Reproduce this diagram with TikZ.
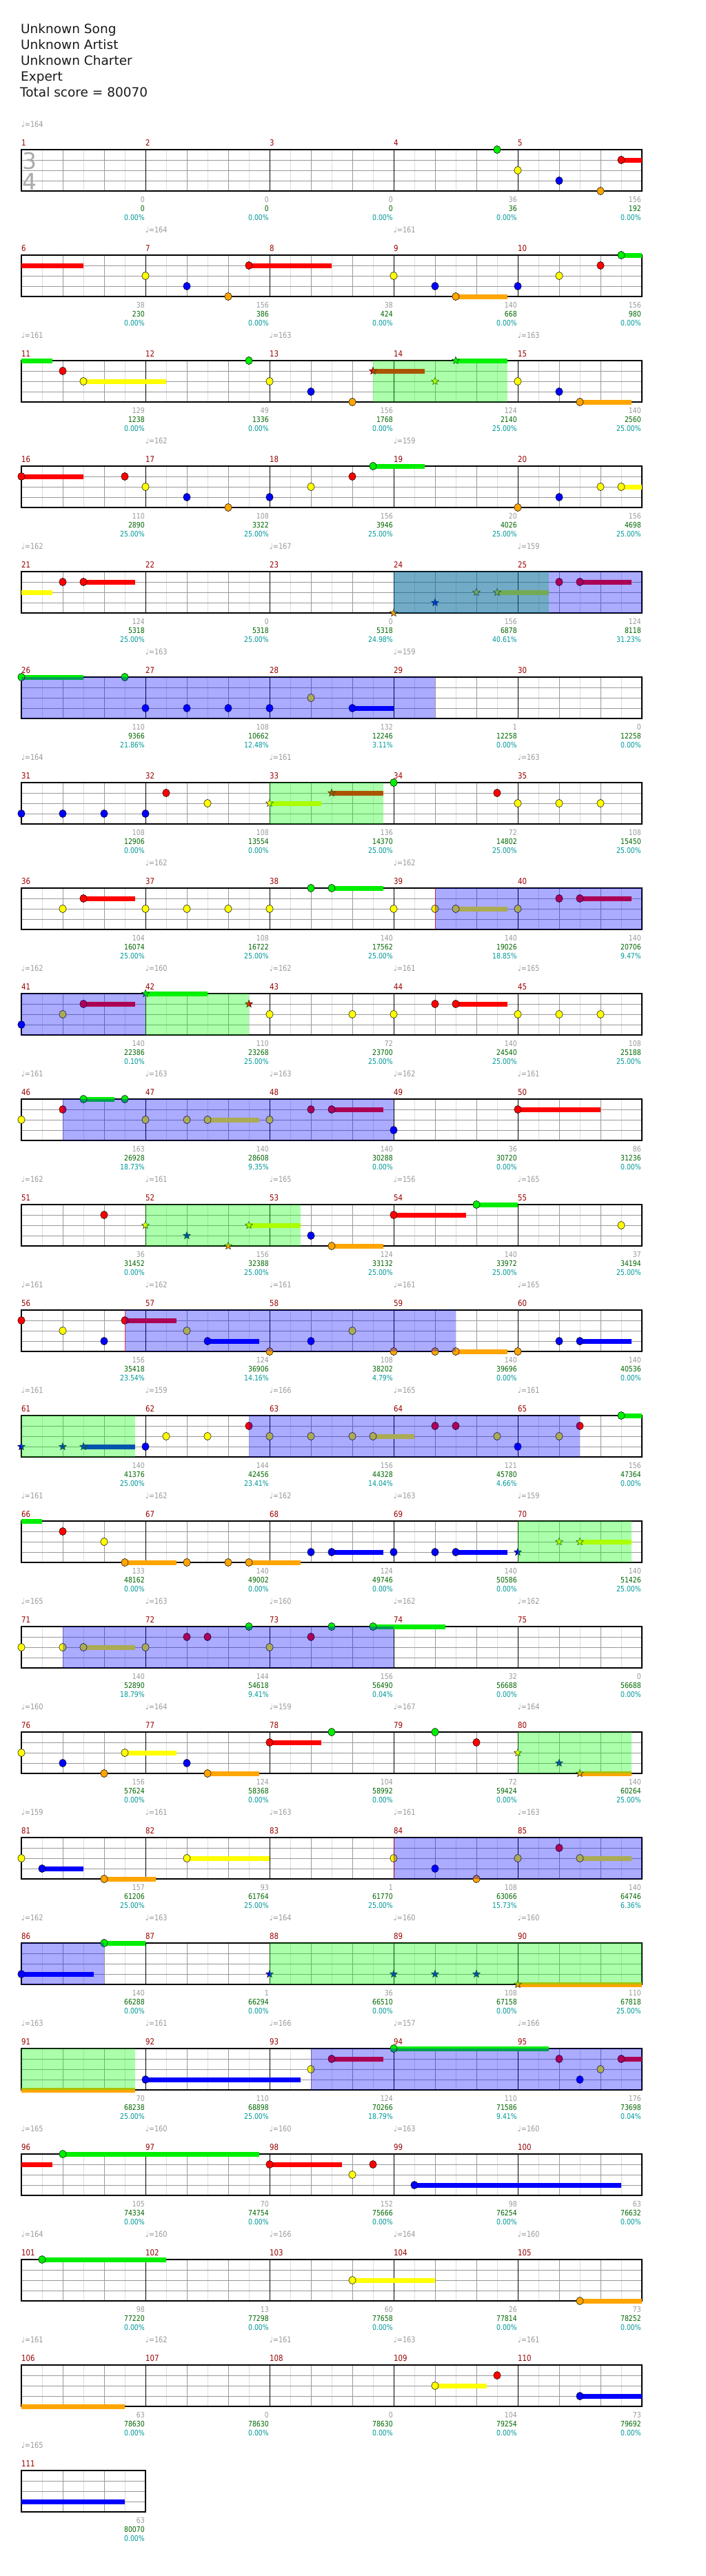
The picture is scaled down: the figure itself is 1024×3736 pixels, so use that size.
\documentclass[tikz,border=0pt]{standalone}
\usepackage{fontspec}
\setmainfont{DejaVu Sans}
\newfontfamily\cf[FakeStretch=0.85]{DejaVu Sans}
\usetikzlibrary{shapes.geometric}
\definecolor{lc0}{HTML}{00EE00}
\definecolor{lc1}{HTML}{FF0000}
\definecolor{lc2}{HTML}{FFFF00}
\definecolor{lc3}{HTML}{0000FF}
\definecolor{lc4}{HTML}{FFA500}
\definecolor{mnum}{HTML}{990000}
\definecolor{gnum}{HTML}{999999}
\definecolor{snum}{HTML}{006600}
\definecolor{pnum}{HTML}{009999}
\definecolor{lightgrid}{HTML}{DDDDDD}
\definecolor{midgrid}{HTML}{999999}
\definecolor{tsig}{HTML}{AAAAAA}
\definecolor{ovg}{RGB}{0,255,0}
\definecolor{ovb}{RGB}{0,0,255}
\newcounter{nd}
\tikzset{
  starnote/.style={star,star points=5,star point ratio=2.3,minimum size=11.5pt,inner sep=0pt,draw=black,line width=0.4pt},
  notehead/.style={draw=black,line width=0.5pt},
  spgreen/.style={fill=ovg,fill opacity=0.33},
  actblue/.style={fill=ovb,fill opacity=0.33},
  mnumst/.style={anchor=base west,inner sep=0pt,text=mnum,font={\cf\fontsize{12}{12}\selectfont}},
  bnum/.style={anchor=base east,inner sep=0pt,xshift=-1pt,font={\cf\fontsize{11}{11}\selectfont}},
  tempost/.style={anchor=base west,inner sep=0pt,text=gnum,font={\cf\fontsize{11.5}{12}\selectfont}},
  titlest/.style={anchor=base west,inner sep=0pt,text=black!90,font={\fontsize{18.5}{18.5}\selectfont}},
  tsigst/.style={anchor=center,inner sep=0pt,text=tsig,font={\fontsize{33}{33}\selectfont}}
}
\newcommand\NH[2]{\fill[lc#2,notehead] ({#1},{15*#2}) ellipse [x radius=5.2pt,y radius=5.6pt];}
\newcommand\SUS[3]{\fill[lc#3] ({#1},{15*#3-3.5}) rectangle ({#2},{15*#3+3.5});}
\newcommand\SH[2]{\stepcounter{nd}\node[starnote,fill=lc#2] (n\arabic{nd}) at ({#1},{15*#2}) {};}
\newcommand\SPB[2]{\fill[spgreen] ({#1},0) rectangle ({#2},60);}
\newcommand\ACT[2]{\fill[actblue] ({#1},0) rectangle ({#2},60);}
\newcommand\REDL[1]{\draw[lc1,opacity=0.6,line width=1pt] ({#1},0) -- ({#1},60);}
\newcommand\TP[2]{\stepcounter{nd}\node[tempost] (n\arabic{nd}) at ({6*#1},-33) {♩=#2};}
\newcommand\MS[5]{%
  \stepcounter{nd}\node[mnumst] (n\arabic{nd}) at ({6*#1},-6) {#2};
  \stepcounter{nd}\node[bnum,text=gnum] (n\arabic{nd}) at ({6*#1+6},76) {#3};
  \stepcounter{nd}\node[bnum,text=snum] (n\arabic{nd}) at ({6*#1+6},89) {#4};
  \stepcounter{nd}\node[bnum,text=pnum] (n\arabic{nd}) at ({6*#1+6},102) {#5\%};}
\newcommand\GRID[1]{%
  \pgfmathtruncatemacro\gl{6*#1-1}%
  \pgfmathtruncatemacro\gw{6*#1}%
  \fill[white] (0,0) rectangle (\gw,60);
  \foreach \i in {1,3,...,\gl} {\draw[lightgrid,line width=1pt] (\i,0) -- (\i,60);}
  \foreach \j in {15,30,45} {\draw[midgrid,line width=1pt] (0,\j) -- (\gw,\j);}
  \foreach \i in {2,4,...,\gl} {%
    \pgfmathtruncatemacro\rr{mod(\i,6)}%
    \ifnum\rr=0 \draw[black,line width=1pt] (\i,0) -- (\i,60);
    \else \draw[midgrid,line width=1pt] (\i,0) -- (\i,60); \fi}
  \draw[black,line width=1.3pt] (0,0) rectangle (\gw,60);
}
\begin{document}
\begin{tikzpicture}[x=1pt,y=-1pt]
\fill[white] (0,0) rectangle (1024,3736);
\useasboundingbox (0,0) rectangle (1024,3736);
\node[titlest] (t1) at (30,49) {Unknown Song};
\node[titlest] (t2) at (30,72) {Unknown Artist};
\node[titlest] (t3) at (30,95) {Unknown Charter};
\node[titlest] (t4) at (30,118) {Expert};
\node[titlest] (t5) at (29,141) {Total score = 80070};

% Row 1
\begin{scope}[shift={(31,217)},x=30pt]
\GRID{5}
\node[tsigst] (ts3) at (0.4,16) {3};
\node[tsigst] (ts4) at (0.4,46) {4};
\TP{0}{164}
\MS{0}{1}{0}{0}{0.00}\MS{1}{2}{0}{0}{0.00}\MS{2}{3}{0}{0}{0.00}\MS{3}{4}{36}{36}{0.00}\MS{4}{5}{156}{192}{0.00}
\SUS{29}{30}{1}
\NH{23}{0}\NH{24}{2}\NH{26}{3}\NH{28}{4}\NH{29}{1}
\end{scope}

% Row 2
\begin{scope}[shift={(31,370)},x=30pt]
\GRID{5}
\TP{1}{164}\TP{3}{161}
\MS{0}{6}{38}{230}{0.00}\MS{1}{7}{156}{386}{0.00}\MS{2}{8}{38}{424}{0.00}\MS{3}{9}{140}{668}{0.00}\MS{4}{10}{156}{980}{0.00}
\SUS{0}{3}{1}\SUS{11}{15}{1}\SUS{21}{23.5}{4}\SUS{29}{30}{0}
\NH{6}{2}\NH{8}{3}\NH{10}{4}\NH{11}{1}\NH{18}{2}\NH{20}{3}\NH{21}{4}\NH{24}{3}\NH{26}{2}\NH{28}{1}\NH{29}{0}
\end{scope}

% Row 3
\begin{scope}[shift={(31,523)},x=30pt]
\GRID{5}
\TP{0}{161}\TP{2}{163}\TP{4}{163}
\MS{0}{11}{129}{1238}{0.00}\MS{1}{12}{49}{1336}{0.00}\MS{2}{13}{156}{1768}{0.00}\MS{3}{14}{124}{2140}{25.00}\MS{4}{15}{140}{2560}{25.00}
\SUS{0}{1.5}{0}\SUS{3}{7}{2}\SUS{17}{19.5}{1}\SUS{21}{23.5}{0}\SUS{27}{29.5}{4}
\NH{2}{1}\NH{3}{2}\NH{11}{0}\NH{12}{2}\NH{14}{3}\NH{16}{4}
\SH{17}{1}\SH{20}{2}\SH{21}{0}
\NH{24}{2}\NH{26}{3}\NH{27}{4}
\SPB{17}{23.5}
\end{scope}

% Row 4
\begin{scope}[shift={(31,676)},x=30pt]
\GRID{5}
\TP{1}{162}\TP{3}{159}
\MS{0}{16}{110}{2890}{25.00}\MS{1}{17}{108}{3322}{25.00}\MS{2}{18}{156}{3946}{25.00}\MS{3}{19}{20}{4026}{25.00}\MS{4}{20}{156}{4698}{25.00}
\SUS{0}{3}{1}\SUS{17}{19.5}{0}\SUS{29}{30}{2}
\NH{0}{1}\NH{5}{1}\NH{6}{2}\NH{8}{3}\NH{10}{4}\NH{12}{3}\NH{14}{2}\NH{16}{1}\NH{17}{0}\NH{24}{4}\NH{26}{3}\NH{28}{2}\NH{29}{2}
\end{scope}

% Row 5
\begin{scope}[shift={(31,829)},x=30pt]
\GRID{5}
\TP{0}{162}\TP{2}{167}\TP{4}{159}
\MS{0}{21}{124}{5318}{25.00}\MS{1}{22}{0}{5318}{25.00}\MS{2}{23}{0}{5318}{24.98}\MS{3}{24}{156}{6878}{40.61}\MS{4}{25}{124}{8118}{31.23}
\SUS{0}{1.5}{2}\SUS{3}{5.5}{1}\SUS{23}{25.5}{2}\SUS{27}{29.5}{1}
\NH{2}{1}\NH{3}{1}
\SH{18}{4}\SH{20}{3}\SH{22}{2}\SH{23}{2}
\NH{26}{1}\NH{27}{1}
\SPB{18}{25.5}\ACT{18}{30}
\end{scope}

% Row 6
\begin{scope}[shift={(31,982)},x=30pt]
\GRID{5}
\TP{1}{163}\TP{3}{159}
\MS{0}{26}{110}{9366}{21.86}\MS{1}{27}{108}{10662}{12.48}\MS{2}{28}{132}{12246}{3.11}\MS{3}{29}{1}{12258}{0.00}\MS{4}{30}{0}{12258}{0.00}
\SUS{0}{3}{0}\SUS{16}{18}{3}
\NH{0}{0}\NH{5}{0}\NH{6}{3}\NH{8}{3}\NH{10}{3}\NH{12}{3}\NH{14}{2}\NH{16}{3}
\ACT{0}{20}
\end{scope}

% Row 7
\begin{scope}[shift={(31,1135)},x=30pt]
\GRID{5}
\TP{0}{164}\TP{2}{161}\TP{4}{163}
\MS{0}{31}{108}{12906}{0.00}\MS{1}{32}{108}{13554}{0.00}\MS{2}{33}{136}{14370}{25.00}\MS{3}{34}{72}{14802}{25.00}\MS{4}{35}{108}{15450}{25.00}
\SUS{12}{14.5}{2}\SUS{15}{17.5}{1}
\NH{0}{3}\NH{2}{3}\NH{4}{3}\NH{6}{3}\NH{7}{1}\NH{9}{2}
\SH{12}{2}\SH{15}{1}
\NH{18}{0}\NH{23}{1}\NH{24}{2}\NH{26}{2}\NH{28}{2}
\SPB{12}{17.5}
\end{scope}

% Row 8
\begin{scope}[shift={(31,1288)},x=30pt]
\GRID{5}
\TP{1}{162}\TP{3}{162}
\MS{0}{36}{104}{16074}{25.00}\MS{1}{37}{108}{16722}{25.00}\MS{2}{38}{140}{17562}{25.00}\MS{3}{39}{140}{19026}{18.85}\MS{4}{40}{140}{20706}{9.47}
\SUS{3}{5.5}{1}\SUS{15}{17.5}{0}\SUS{21}{23.5}{2}\SUS{27}{29.5}{1}
\NH{2}{2}\NH{3}{1}\NH{6}{2}\NH{8}{2}\NH{10}{2}\NH{12}{2}\NH{14}{0}\NH{15}{0}\NH{18}{2}\NH{20}{2}\NH{21}{2}\NH{24}{2}\NH{26}{1}\NH{27}{1}
\ACT{20}{30}\REDL{20}
\end{scope}

% Row 9
\begin{scope}[shift={(31,1441)},x=30pt]
\GRID{5}
\TP{0}{162}\TP{1}{160}\TP{2}{162}\TP{3}{161}\TP{4}{165}
\MS{0}{41}{140}{22386}{0.10}\MS{1}{42}{110}{23268}{25.00}\MS{2}{43}{72}{23700}{25.00}\MS{3}{44}{140}{24540}{25.00}\MS{4}{45}{108}{25188}{25.00}
\SUS{3}{5.5}{1}\SUS{6}{9}{0}\SUS{21}{23.5}{1}
\NH{0}{3}\NH{2}{2}\NH{3}{1}
\SH{6}{0}\SH{11}{1}
\NH{12}{2}\NH{16}{2}\NH{18}{2}\NH{20}{1}\NH{21}{1}\NH{24}{2}\NH{26}{2}\NH{28}{2}
\ACT{0}{6}\SPB{6}{11}
\end{scope}

% Row 10
\begin{scope}[shift={(31,1594)},x=30pt]
\GRID{5}
\TP{0}{161}\TP{1}{163}\TP{2}{163}\TP{3}{162}\TP{4}{161}
\MS{0}{46}{163}{26928}{18.73}\MS{1}{47}{140}{28608}{9.35}\MS{2}{48}{140}{30288}{0.00}\MS{3}{49}{36}{30720}{0.00}\MS{4}{50}{86}{31236}{0.00}
\SUS{3}{4.5}{0}\SUS{9}{11.5}{2}\SUS{15}{17.5}{1}\SUS{24}{28}{1}
\NH{0}{2}\NH{2}{1}\NH{3}{0}\NH{5}{0}\NH{6}{2}\NH{8}{2}\NH{9}{2}\NH{12}{2}\NH{14}{1}\NH{15}{1}\NH{18}{3}\NH{24}{1}
\ACT{2}{18}
\end{scope}

% Row 11
\begin{scope}[shift={(31,1747)},x=30pt]
\GRID{5}
\TP{0}{162}\TP{1}{161}\TP{2}{165}\TP{3}{156}\TP{4}{165}
\MS{0}{51}{36}{31452}{0.00}\MS{1}{52}{156}{32388}{25.00}\MS{2}{53}{124}{33132}{25.00}\MS{3}{54}{140}{33972}{25.00}\MS{4}{55}{37}{34194}{25.00}
\SUS{11}{13.5}{2}\SUS{15}{17.5}{4}\SUS{18}{21.5}{1}\SUS{22}{24}{0}
\NH{4}{1}
\SH{6}{2}\SH{8}{3}\SH{10}{4}\SH{11}{2}
\NH{14}{3}\NH{15}{4}\NH{18}{1}\NH{22}{0}\NH{29}{2}
\SPB{6}{13.5}
\end{scope}

% Row 12
\begin{scope}[shift={(31,1900)},x=30pt]
\GRID{5}
\TP{0}{161}\TP{1}{162}\TP{2}{161}\TP{3}{161}\TP{4}{165}
\MS{0}{56}{156}{35418}{23.54}\MS{1}{57}{124}{36906}{14.16}\MS{2}{58}{108}{38202}{4.79}\MS{3}{59}{140}{39696}{0.00}\MS{4}{60}{140}{40536}{0.00}
\SUS{5}{7.5}{1}\SUS{9}{11.5}{3}\SUS{21}{23.5}{4}\SUS{27}{29.5}{3}
\NH{0}{1}\NH{2}{2}\NH{4}{3}\NH{5}{1}\NH{8}{2}\NH{9}{3}\NH{12}{4}\NH{14}{3}\NH{16}{2}\NH{18}{4}\NH{20}{4}\NH{21}{4}\NH{24}{4}\NH{26}{3}\NH{27}{3}
\ACT{5}{21}\REDL{5}
\end{scope}

% Row 13
\begin{scope}[shift={(31,2053)},x=30pt]
\GRID{5}
\TP{0}{161}\TP{1}{159}\TP{2}{166}\TP{3}{165}\TP{4}{161}
\MS{0}{61}{140}{41376}{25.00}\MS{1}{62}{144}{42456}{23.41}\MS{2}{63}{156}{44328}{14.04}\MS{3}{64}{121}{45780}{4.66}\MS{4}{65}{156}{47364}{0.00}
\SUS{3}{5.5}{3}\SUS{17}{19}{2}\SUS{29}{30}{0}
\SH{0}{3}\SH{2}{3}\SH{3}{3}
\NH{6}{3}\NH{7}{2}\NH{9}{2}\NH{11}{1}\NH{12}{2}\NH{14}{2}\NH{16}{2}\NH{17}{2}\NH{20}{1}\NH{21}{1}\NH{23}{2}\NH{24}{3}\NH{26}{2}\NH{27}{1}\NH{29}{0}
\SPB{0}{5.5}\ACT{11}{27}
\end{scope}

% Row 14
\begin{scope}[shift={(31,2206)},x=30pt]
\GRID{5}
\TP{0}{161}\TP{1}{162}\TP{2}{162}\TP{3}{163}\TP{4}{159}
\MS{0}{66}{133}{48162}{0.00}\MS{1}{67}{140}{49002}{0.00}\MS{2}{68}{124}{49746}{0.00}\MS{3}{69}{140}{50586}{0.00}\MS{4}{70}{140}{51426}{25.00}
\SUS{0}{1}{0}\SUS{5}{7.5}{4}\SUS{11}{13.5}{4}\SUS{15}{17.5}{3}\SUS{21}{23.5}{3}\SUS{27}{29.5}{2}
\NH{2}{1}\NH{4}{2}\NH{5}{4}\NH{8}{4}\NH{10}{4}\NH{11}{4}\NH{14}{3}\NH{15}{3}\NH{18}{3}\NH{20}{3}\NH{21}{3}
\SH{24}{3}\SH{26}{2}\SH{27}{2}
\SPB{24}{29.5}
\end{scope}

% Row 15
\begin{scope}[shift={(31,2359)},x=30pt]
\GRID{5}
\TP{0}{165}\TP{1}{163}\TP{2}{160}\TP{3}{162}\TP{4}{162}
\MS{0}{71}{140}{52890}{18.79}\MS{1}{72}{144}{54618}{9.41}\MS{2}{73}{156}{56490}{0.04}\MS{3}{74}{32}{56688}{0.00}\MS{4}{75}{0}{56688}{0.00}
\SUS{3}{5.5}{2}\SUS{17}{20.5}{0}
\NH{0}{2}\NH{2}{2}\NH{3}{2}\NH{6}{2}\NH{8}{1}\NH{9}{1}\NH{11}{0}\NH{12}{2}\NH{14}{1}\NH{15}{0}\NH{17}{0}
\ACT{2}{18}
\end{scope}

% Row 16
\begin{scope}[shift={(31,2512)},x=30pt]
\GRID{5}
\TP{0}{160}\TP{1}{164}\TP{2}{159}\TP{3}{167}\TP{4}{164}
\MS{0}{76}{156}{57624}{0.00}\MS{1}{77}{124}{58368}{0.00}\MS{2}{78}{104}{58992}{0.00}\MS{3}{79}{72}{59424}{0.00}\MS{4}{80}{140}{60264}{25.00}
\SUS{5}{7.5}{2}\SUS{9}{11.5}{4}\SUS{12}{14.5}{1}\SUS{27}{29.5}{4}
\NH{0}{2}\NH{2}{3}\NH{4}{4}\NH{5}{2}\NH{8}{3}\NH{9}{4}\NH{12}{1}\NH{15}{0}\NH{20}{0}\NH{22}{1}
\SH{24}{2}\SH{26}{3}\SH{27}{4}
\SPB{24}{29.5}
\end{scope}

% Row 17
\begin{scope}[shift={(31,2665)},x=30pt]
\GRID{5}
\TP{0}{159}\TP{1}{161}\TP{2}{163}\TP{3}{161}\TP{4}{163}
\MS{0}{81}{157}{61206}{25.00}\MS{1}{82}{93}{61764}{25.00}\MS{2}{83}{1}{61770}{25.00}\MS{3}{84}{108}{63066}{15.73}\MS{4}{85}{140}{64746}{6.36}
\SUS{1}{3}{3}\SUS{4}{6.5}{4}\SUS{8}{12}{2}\SUS{27}{29.5}{2}
\NH{0}{2}\NH{1}{3}\NH{4}{4}\NH{8}{2}\NH{18}{2}\NH{20}{3}\NH{22}{4}\NH{24}{2}\NH{26}{1}\NH{27}{2}
\ACT{18}{30}\REDL{18}
\end{scope}

% Row 18
\begin{scope}[shift={(31,2818)},x=30pt]
\GRID{5}
\TP{0}{162}\TP{1}{163}\TP{2}{164}\TP{3}{160}\TP{4}{160}
\MS{0}{86}{140}{66288}{0.00}\MS{1}{87}{1}{66294}{0.00}\MS{2}{88}{36}{66510}{0.00}\MS{3}{89}{108}{67158}{0.00}\MS{4}{90}{110}{67818}{25.00}
\SUS{0}{3.5}{3}\SUS{4}{6}{0}\SUS{24}{30}{4}
\NH{0}{3}\NH{4}{0}
\SH{12}{3}\SH{18}{3}\SH{20}{3}\SH{22}{3}\SH{24}{4}
\ACT{0}{4}\SPB{12}{30}
\end{scope}

% Row 19
\begin{scope}[shift={(31,2971)},x=30pt]
\GRID{5}
\TP{0}{163}\TP{1}{161}\TP{2}{166}\TP{3}{157}\TP{4}{166}
\MS{0}{91}{70}{68238}{25.00}\MS{1}{92}{110}{68898}{25.00}\MS{2}{93}{124}{70266}{18.79}\MS{3}{94}{110}{71586}{9.41}\MS{4}{95}{176}{73698}{0.04}
\SUS{0}{5.5}{4}\SUS{6}{13.5}{3}\SUS{15}{17.5}{1}\SUS{18}{25.5}{0}\SUS{29}{30}{1}
\NH{6}{3}\NH{14}{2}\NH{15}{1}\NH{18}{0}\NH{26}{1}\NH{27}{3}\NH{28}{2}\NH{29}{1}
\SPB{0}{5.5}\ACT{14}{30}
\end{scope}

% Row 20
\begin{scope}[shift={(31,3124)},x=30pt]
\GRID{5}
\TP{0}{165}\TP{1}{160}\TP{2}{160}\TP{3}{163}\TP{4}{160}
\MS{0}{96}{105}{74334}{0.00}\MS{1}{97}{70}{74754}{0.00}\MS{2}{98}{152}{75666}{0.00}\MS{3}{99}{98}{76254}{0.00}\MS{4}{100}{63}{76632}{0.00}
\SUS{0}{1.5}{1}\SUS{2}{11.5}{0}\SUS{12}{15.5}{1}\SUS{19}{29}{3}
\NH{2}{0}\NH{12}{1}\NH{16}{2}\NH{17}{1}\NH{19}{3}
\end{scope}

% Row 21
\begin{scope}[shift={(31,3277)},x=30pt]
\GRID{5}
\TP{0}{164}\TP{1}{160}\TP{2}{166}\TP{3}{164}\TP{4}{160}
\MS{0}{101}{98}{77220}{0.00}\MS{1}{102}{13}{77298}{0.00}\MS{2}{103}{60}{77658}{0.00}\MS{3}{104}{26}{77814}{0.00}\MS{4}{105}{73}{78252}{0.00}
\SUS{1}{7}{0}\SUS{16}{20}{2}\SUS{27}{30}{4}
\NH{1}{0}\NH{16}{2}\NH{27}{4}
\end{scope}

% Row 22
\begin{scope}[shift={(31,3430)},x=30pt]
\GRID{5}
\TP{0}{161}\TP{1}{162}\TP{2}{161}\TP{3}{163}\TP{4}{161}
\MS{0}{106}{63}{78630}{0.00}\MS{1}{107}{0}{78630}{0.00}\MS{2}{108}{0}{78630}{0.00}\MS{3}{109}{104}{79254}{0.00}\MS{4}{110}{73}{79692}{0.00}
\SUS{0}{5}{4}\SUS{20}{22.5}{2}\SUS{27}{30}{3}
\NH{20}{2}\NH{23}{1}\NH{27}{3}
\end{scope}

% Row 23
\begin{scope}[shift={(31,3583)},x=30pt]
\GRID{1}
\TP{0}{165}
\MS{0}{111}{63}{80070}{0.00}
\SUS{0}{5}{3}
\end{scope}
\end{tikzpicture}
\end{document}
